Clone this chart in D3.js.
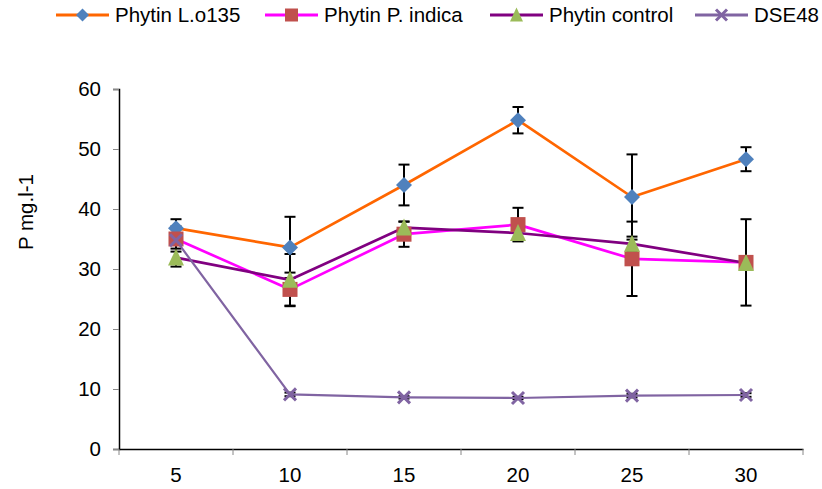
<!DOCTYPE html>
<html>
<head>
<meta charset="utf-8">
<script src="https://cdn.jsdelivr.net/npm/d3@7"></script>
<style>
  body { margin: 0; background: #fff; }
  svg { display: block; font-family: "Liberation Sans", Arial, sans-serif; }
</style>
</head>
<body>
<div id="chart"></div>
<script>
// data
var categories = [5, 10, 15, 20, 25, 30];
var yTicks = [0, 10, 20, 30, 40, 50, 60];

var lo135 = [36.8, 33.6, 44.0, 54.8, 42.0, 48.3];
var lo135Err = [1.5, 5.1, 3.4, 2.2, 7.1, 2.0];
var indica = [35.0, 26.6, 35.8, 37.4, 31.7, 31.1];
var indicaErr = [2.1, 2.8, 2.1, 2.8, 6.2, 7.2];
var control = [31.9, 28.2, 36.9, 36.0, 34.2, 31.0];
var controlErr = [1.5, 4.3, 1.0, 1.2, 1.2, 1.0];
var dse48 = [34.8, 9.1, 8.6, 8.5, 8.9, 9.0];
var dse48Err = [0.4, 0.3, 0.2, 0.2, 0.3, 0.3];

var series = [
  {name: "Phytin L.o135", values: lo135, err: lo135Err, line: "#ff6600", fill: "#4f81bd", marker: "diamond", width: 2.7},
  {name: "Phytin P. indica", values: indica, err: indicaErr, line: "#ff00ff", fill: "#c0504d", marker: "square", width: 2.7},
  {name: "Phytin control", values: control, err: controlErr, line: "#800080", fill: "#9bbb59", marker: "triangle", width: 2.7},
  {name: "DSE48", values: dse48, err: dse48Err, line: "#8064a2", fill: "#8064a2", marker: "x", width: 2.2}
];

var W = 822, H = 489;
var margin = {top: 89, left: 119, right: 19, bottom: 40};

var svg = d3.select("#chart").append("svg")
  .attr("width", W)
  .attr("height", H);

var x = d3.scaleBand().domain(categories).range([margin.left, W - margin.right]);
var y = d3.scaleLinear().domain([0, 60]).range([H - margin.bottom, margin.top]);
var cx = function(i){ return x(categories[i]) + x.bandwidth()/2; };

// y axis
var yAxis = svg.append("g")
  .attr("transform", "translate(" + margin.left + ",0)")
  .call(d3.axisLeft(y).tickValues(yTicks).tickSize(6).tickPadding(12));
yAxis.select(".domain").attr("stroke", "#000").attr("stroke-width", 1.5);
yAxis.selectAll(".tick line").attr("stroke", "#888");
yAxis.selectAll(".tick text").attr("font-size", 20.5).attr("fill", "#000")
  .attr("font-family", "Liberation Sans, Arial, sans-serif");

// x axis: labels at centres, ticks between categories
var xAxis = svg.append("g")
  .attr("transform", "translate(0," + y(0) + ")")
  .call(d3.axisBottom(x).tickSize(0).tickPadding(18));
xAxis.select(".domain").attr("stroke", "#000").attr("stroke-width", 1.5);
xAxis.selectAll(".tick text").attr("font-size", 20.5).attr("fill", "#000")
  .attr("font-family", "Liberation Sans, Arial, sans-serif");
var bounds = categories.map(function(c){ return x(c); }).concat([x.range()[1]]);
xAxis.selectAll("line.bt").data(bounds).enter().append("line")
  .attr("class", "bt")
  .attr("x1", function(d){ return d; })
  .attr("x2", function(d){ return d; })
  .attr("y1", 0).attr("y2", 6)
  .attr("stroke", "#888");

// y label
svg.append("text")
  .attr("transform", "translate(33,212) rotate(-90)")
  .attr("text-anchor", "middle")
  .attr("font-size", 20.5)
  .text("P mg.l-1");

// error bars
series.forEach(function(s){
  var g = svg.append("g").attr("stroke", "#000").attr("stroke-width", 2);
  s.values.forEach(function(v, i){
    var top = y(v + s.err[i]), bot = y(v - s.err[i]), xc = cx(i);
    g.append("line").attr("x1", xc).attr("x2", xc).attr("y1", top).attr("y2", bot);
    g.append("line").attr("x1", xc - 5.5).attr("x2", xc + 5.5).attr("y1", top).attr("y2", top);
    g.append("line").attr("x1", xc - 5.5).attr("x2", xc + 5.5).attr("y1", bot).attr("y2", bot);
  });
});

// lines
var line = d3.line().x(function(d, i){ return cx(i); }).y(function(d){ return y(d); });
series.forEach(function(s){
  svg.append("path")
    .attr("d", line(s.values))
    .attr("fill", "none")
    .attr("stroke", s.line)
    .attr("stroke-width", s.width)
    .attr("stroke-linejoin", "round");
});

// markers
function drawMarker(g, type, fill, px, py, sz){
  if(type == "diamond"){
    var r = sz/2;
    g.append("path").attr("d", "M" + px + "," + (py - r) + "L" + (px + r) + "," + py + "L" + px + "," + (py + r) + "L" + (px - r) + "," + py + "Z")
      .attr("fill", fill);
  } else if(type == "square"){
    g.append("rect").attr("x", px - sz/2).attr("y", py - sz/2).attr("width", sz).attr("height", sz)
      .attr("fill", fill);
  } else if(type == "triangle"){
    var h = sz;
    g.append("path").attr("d", "M" + px + "," + (py - h/2 - 1) + "L" + (px + sz/2) + "," + (py + h/2) + "L" + (px - sz/2) + "," + (py + h/2) + "Z")
      .attr("fill", fill);
  } else {
    var a = sz/2;
    g.append("path").attr("d", "M" + (px - a) + "," + (py - a) + "L" + (px + a) + "," + (py + a) + "M" + (px + a) + "," + (py - a) + "L" + (px - a) + "," + (py + a))
      .attr("stroke", fill).attr("stroke-width", 3).attr("fill", "none");
  }
}
var sizes = {diamond: 16, square: 15, triangle: 16, x: 12};
series.forEach(function(s){
  var g = svg.append("g");
  s.values.forEach(function(v, i){
    drawMarker(g, s.marker, s.fill, cx(i), y(v), sizes[s.marker]);
  });
});

// legend
var legendX = [56, 265, 490, 695];
var lg = svg.append("g");
series.forEach(function(s, i){
  var lx = legendX[i], ly = 15;
  lg.append("line").attr("x1", lx).attr("x2", lx + 53).attr("y1", ly).attr("y2", ly)
    .attr("stroke", s.line).attr("stroke-width", 3);
  drawMarker(lg, s.marker, s.fill, lx + 26.5, ly, s.marker == "x" ? 11 : 13);
  lg.append("text").attr("x", lx + 59).attr("y", ly + 7)
    .attr("font-size", 20.5)
    .text(s.name);
});
</script>
</body>
</html>
